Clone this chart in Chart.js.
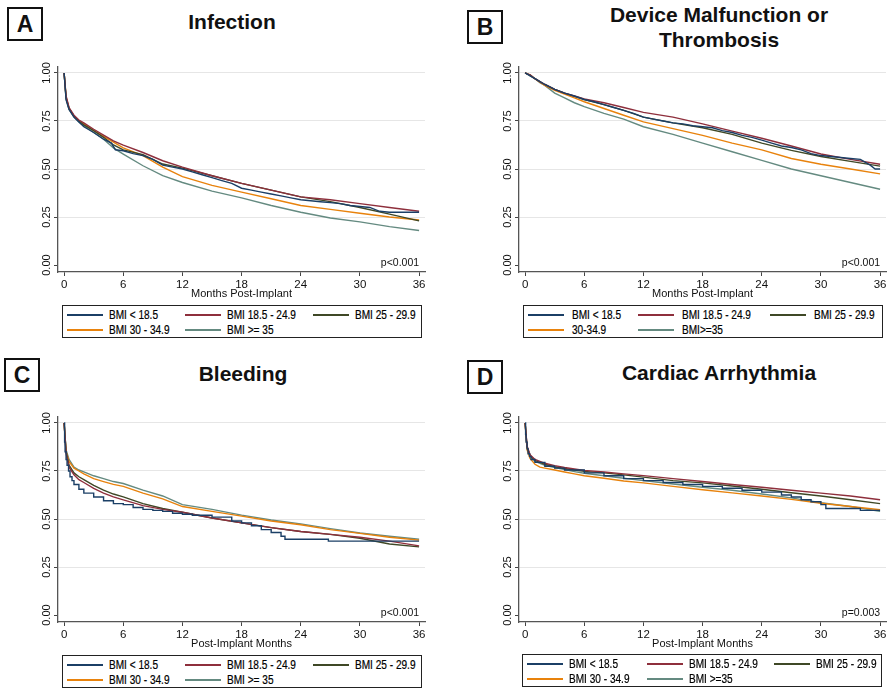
<!DOCTYPE html>
<html>
<head>
<meta charset="utf-8">
<script src="https://cdn.jsdelivr.net/npm/chart.js@4.4.1/dist/chart.umd.min.js"></script>
<style>
  body { margin: 0; background: #fff; font-family: "Liberation Sans", Arial, sans-serif; color: #111; }
  #page { position: relative; width: 891px; height: 692px; overflow: hidden; }
  .tag { position: absolute; width: 36px; height: 34px; border: 2px solid #111; box-sizing: border-box;
         font-weight: bold; font-size: 23px; line-height: 30px; text-align: center; }
  .title { position: absolute; width: 300px; text-align: center; font-weight: bold; font-size: 21px; line-height: 25px; }
  .plot { position: absolute; }
  .legend { position: absolute; width: 360px; height: 33px; border: 1.5px solid #222; box-sizing: border-box; }
  .legend .item { position: absolute; height: 14px; width: 120px; }
  .legend .sw { position: absolute; left: 0; top: 6px; width: 36px; height: 2px; }
  .legend .tx { position: absolute; top: 0; font-size: 12px; line-height: 14px; white-space: nowrap; color: #000;
                -webkit-text-stroke: 0.2px #000;
                transform: scaleX(0.84); transform-origin: left center; }
</style>
</head>
<body>
<div id="page">
  <div class="tag" style="left:7px;top:7px">A</div>
  <div class="title" style="left:82px;top:9px">Infection</div>
  <canvas id="cA" class="plot" width="430" height="245" style="left:0px;top:60px"></canvas>
  <div id="legA" class="legend" style="left:62px;top:305px"></div>

  <div class="tag" style="left:467px;top:10px">B</div>
  <div class="title" style="left:569px;top:2px">Device Malfunction or<br>Thrombosis</div>
  <canvas id="cB" class="plot" width="430" height="245" style="left:461px;top:60px"></canvas>
  <div id="legB" class="legend" style="left:523px;top:305px"></div>

  <div class="tag" style="left:4px;top:358px">C</div>
  <div class="title" style="left:93px;top:361px">Bleeding</div>
  <canvas id="cC" class="plot" width="430" height="245" style="left:0px;top:410px"></canvas>
  <div id="legC" class="legend" style="left:62px;top:655px"></div>

  <div class="tag" style="left:467px;top:360px">D</div>
  <div class="title" style="left:569px;top:360px">Cardiac Arrhythmia</div>
  <canvas id="cD" class="plot" width="430" height="245" style="left:461px;top:410px"></canvas>
  <div id="legD" class="legend" style="left:522px;top:654px"></div>
</div>
<script>
// shared month grid and axis ticks
const months = [0, 0.2, 0.5, 1, 1.5, 2, 3, 4, 5, 6, 8, 10, 12, 15, 18, 21, 24, 27, 30, 33, 36];
const xTicks = [0, 6, 12, 18, 24, 30, 36];
const yTicks = [0, 0.25, 0.5, 0.75, 1];

// A - Infection
const infUnderMonths = [0, .2, .5, 1, 1.5, 2, 3, 4, 4.8, 5.2, 6, 7, 8, 9, 10, 11, 12, 13, 14, 15, 16, 17, 18, 19, 20, 21, 22, 23, 24, 25, 26, 27, 28, 29, 30, 31, 32, 33, 36];
const infUnder  = [1, .86, .81, .77, .745, .72, .69, .655, .635, .60, .595, .58, .57, .55, .52, .51, .50, .485, .47, .455, .44, .425, .40, .39, .38, .37, .36, .35, .34, .335, .33, .325, .32, .31, .305, .30, .28, .275, .275];
const infNormal = [1, .88, .82, .78, .755, .74, .707, .676, .646, .624, .586, .543, .51, .465, .425, .39, .355, .34, .32, .30, .28];
const infOver   = [1, .87, .815, .775, .75, .73, .70, .665, .625, .60, .575, .526, .505, .465, .425, .39, .355, .33, .30, .265, .23];
const infObese  = [1, .875, .815, .775, .75, .735, .70, .67, .64, .61, .57, .51, .46, .415, .38, .345, .31, .29, .27, .25, .235];
const infSevere = [1, .865, .81, .77, .745, .725, .69, .655, .61, .578, .517, .466, .43, .385, .35, .31, .275, .245, .225, .20, .18];

// B - Device malfunction or thrombosis
const devUnderMonths = [0, 1, 2, 3, 4, 5, 6, 7, 8, 9, 10, 11, 12, 13, 14, 15, 16, 17, 18, 19, 20, 21, 22, 23, 24, 25, 26, 27, 28, 29, 30, 31, 32, 33, 34, 35, 35.5, 36];
const devUnder  = [1, .97, .94, .915, .895, .88, .862, .85, .835, .82, .805, .79, .77, .76, .75, .74, .735, .725, .72, .715, .70, .69, .675, .665, .65, .635, .62, .612, .60, .58, .57, .565, .56, .555, .55, .52, .50, .50];
const devNormal = [1, .995, .99, .97, .955, .94, .915, .895, .88, .865, .845, .82, .795, .77, .735, .697, .66, .62, .578, .55, .525];
const devOver   = [1, .995, .99, .97, .955, .94, .915, .895, .878, .862, .835, .805, .77, .74, .715, .68, .635, .597, .565, .54, .515];
const devObese  = [1, .995, .99, .97, .952, .935, .91, .89, .87, .85, .815, .78, .745, .71, .675, .635, .60, .555, .525, .50, .475];
const devSevere = [1, .995, .985, .97, .95, .935, .895, .87, .845, .825, .79, .76, .72, .68, .635, .59, .545, .50, .465, .43, .395];

// C - Bleeding
const bleUnderMonths = [0, .05, .1, .2, .3, .45, .6, .8, 1, 1.5, 2, 3, 4, 5, 6, 7, 8, 9, 10, 11, 12, 13, 15, 17, 18, 19, 20, 21, 22, 22.4, 26.8, 36];
const bleUnder  = [1, .9, .85, .81, .78, .75, .72, .70, .68, .655, .635, .615, .595, .58, .575, .56, .55, .545, .54, .53, .525, .52, .51, .49, .48, .465, .445, .43, .41, .395, .385, .385];
const bleNormal = [1, .84, .77, .73, .705, .69, .66, .635, .615, .60, .57, .55, .535, .505, .48, .455, .435, .42, .405, .385, .36];
const bleOver   = [1, .85, .78, .74, .72, .705, .675, .65, .63, .615, .58, .555, .535, .505, .48, .455, .435, .42, .40, .37, .355];
const bleObese  = [1, .85, .80, .765, .75, .735, .71, .695, .68, .67, .635, .605, .565, .54, .515, .49, .47, .445, .425, .405, .39];
const bleSevere = [1, .86, .81, .77, .755, .745, .725, .71, .695, .685, .65, .62, .575, .55, .52, .495, .475, .45, .427, .41, .395];

// D - Cardiac arrhythmia
const arrUnderMonths = [0, .05, .1, .2, .3, .45, .6, 1, 2, 3, 4, 6, 8, 10, 12, 14, 16, 18, 20, 22, 24, 26, 27, 28, 29, 30, 30.5, 33, 34, 36];
const arrUnder  = [1, .94, .9, .865, .84, .825, .81, .795, .775, .765, .755, .74, .725, .71, .70, .69, .68, .67, .66, .65, .64, .625, .615, .60, .59, .575, .555, .555, .545, .545];
const arrNormal = [1, .88, .835, .81, .80, .79, .778, .768, .76, .753, .745, .735, .726, .71, .695, .68, .665, .65, .635, .62, .60];
const arrOver   = [1, .875, .83, .805, .795, .785, .772, .763, .755, .748, .74, .73, .718, .70, .688, .672, .655, .637, .62, .60, .58];
const arrObese  = [1, .86, .815, .785, .77, .765, .755, .745, .735, .725, .712, .698, .688, .67, .652, .636, .62, .602, .582, .565, .548];
const arrSevere = [1, .87, .83, .80, .79, .78, .768, .757, .747, .738, .725, .712, .70, .682, .665, .65, .63, .61, .585, .565, .54];

const colors = ['#1b3f66', '#8e2f3c', '#3f4826', '#e8820c', '#648a80'];
const labelsStd = ['BMI < 18.5', 'BMI 18.5 - 24.9', 'BMI 25 - 29.9', 'BMI 30 - 34.9', 'BMI >= 35'];
const labelsB = ['BMI < 18.5', 'BMI 18.5 - 24.9', 'BMI 25 - 29.9', '30-34.9', 'BMI>=35'];
const labelsD = ['BMI < 18.5', 'BMI 18.5 - 24.9', 'BMI 25 - 29.9', 'BMI 30 - 34.9', 'BMI >=35'];

const FONT = '"Liberation Sans", Arial, sans-serif';

function pts(xs, ys) {
  return xs.map((m, i) => ({ x: m, y: ys[i] }));
}

function curve(color, xs, ys, stepped) {
  return {
    data: pts(xs, ys),
    borderColor: color,
    borderWidth: 1.4,
    pointRadius: 0,
    fill: false,
    tension: 0,
    stepped: stepped ? 'before' : false
  };
}

// p-value in the bottom right corner of the plot
const pLabel = {
  id: 'pLabel',
  afterDatasetsDraw(chart, args, opts) {
    const { ctx, scales: { x, y } } = chart;
    ctx.save();
    ctx.font = '10.5px ' + FONT;
    ctx.fillStyle = '#111';
    ctx.textAlign = 'right';
    ctx.textBaseline = 'bottom';
    ctx.fillText(opts.text, x.getPixelForValue(36), y.getPixelForValue(0) + 3);
    ctx.restore();
  }
};

function makeChart(id, under, underMonths, normal, over, obese, severe, xTitle, pText, stepUnder) {
  new Chart(document.getElementById(id), {
    type: 'line',
    data: {
      datasets: [
        curve(colors[0], underMonths, under, stepUnder),
        curve(colors[1], months, normal),
        curve(colors[2], months, over),
        curve(colors[3], months, obese),
        curve(colors[4], months, severe)
      ]
    },
    plugins: [pLabel],
    options: {
      responsive: false,
      animation: false,
      devicePixelRatio: 1,
      layout: { padding: { left: 0, top: 7, right: 5, bottom: 0 } },
      plugins: {
        legend: { display: false },
        tooltip: { enabled: false },
        pLabel: { text: pText }
      },
      scales: {
        x: {
          type: 'linear',
          min: -0.62,
          max: 36.6,
          afterBuildTicks: s => { s.ticks = xTicks.map(v => ({ value: v })); },
          afterFit: s => { s.height = 33; },
          grid: { drawOnChartArea: false, tickLength: 4, tickColor: '#444' },
          border: { color: '#555', width: 1.3 },
          ticks: { font: { size: 11.5, family: FONT }, color: '#111', padding: 2, maxRotation: 0, autoSkip: false },
          title: { display: true, text: xTitle, font: { size: 11, family: FONT }, color: '#111', padding: { top: 0, bottom: 4 } }
        },
        y: {
          min: -0.036,
          max: 1.031,
          afterBuildTicks: s => { s.ticks = yTicks.map(v => ({ value: v })); },
          afterFit: s => { s.width = 58; },
          grid: {
            color: c => (c.tick && c.tick.value === 0) ? 'rgba(0,0,0,0)' : '#e6e6e6',
            tickLength: 4,
            tickColor: '#444'
          },
          border: { color: '#555', width: 1.3 },
          ticks: {
            minRotation: 90, maxRotation: 90, crossAlign: 'center', padding: -4,
            font: { size: 11, family: FONT }, color: '#111',
            callback: v => v.toFixed(2)
          }
        }
      }
    }
  });
}

function buildLegend(id, labels, cols, textGap) {
  const el = document.getElementById(id);
  labels.forEach((t, i) => {
    const item = document.createElement('div');
    item.className = 'item';
    item.style.left = cols[i % 3] + 'px';
    item.style.top = (i < 3 ? 1.5 : 16.5) + 'px';
    const sw = document.createElement('span');
    sw.className = 'sw';
    sw.style.background = colors[i];
    const tx = document.createElement('span');
    tx.className = 'tx';
    tx.style.left = textGap + 'px';
    tx.textContent = t;
    item.appendChild(sw);
    item.appendChild(tx);
    el.appendChild(item);
  });
}

makeChart('cA', infUnder, infUnderMonths, infNormal, infOver, infObese, infSevere, 'Months Post-Implant', 'p<0.001', false);
makeChart('cB', devUnder, devUnderMonths, devNormal, devOver, devObese, devSevere, 'Months Post-Implant', 'p<0.001', false);
makeChart('cC', bleUnder, bleUnderMonths, bleNormal, bleOver, bleObese, bleSevere, 'Post-Implant Months', 'p<0.001', true);
makeChart('cD', arrUnder, arrUnderMonths, arrNormal, arrOver, arrObese, arrSevere, 'Post-Implant Months', 'p=0.003', true);

buildLegend('legA', labelsStd, [3.5, 121.5, 249.5], 42);
buildLegend('legB', labelsB, [3.5, 113.5, 245.5], 44);
buildLegend('legC', labelsStd, [3.5, 121.5, 249.5], 42);
buildLegend('legD', labelsD, [3.5, 123.5, 250.5], 42);
</script>
</body>
</html>
